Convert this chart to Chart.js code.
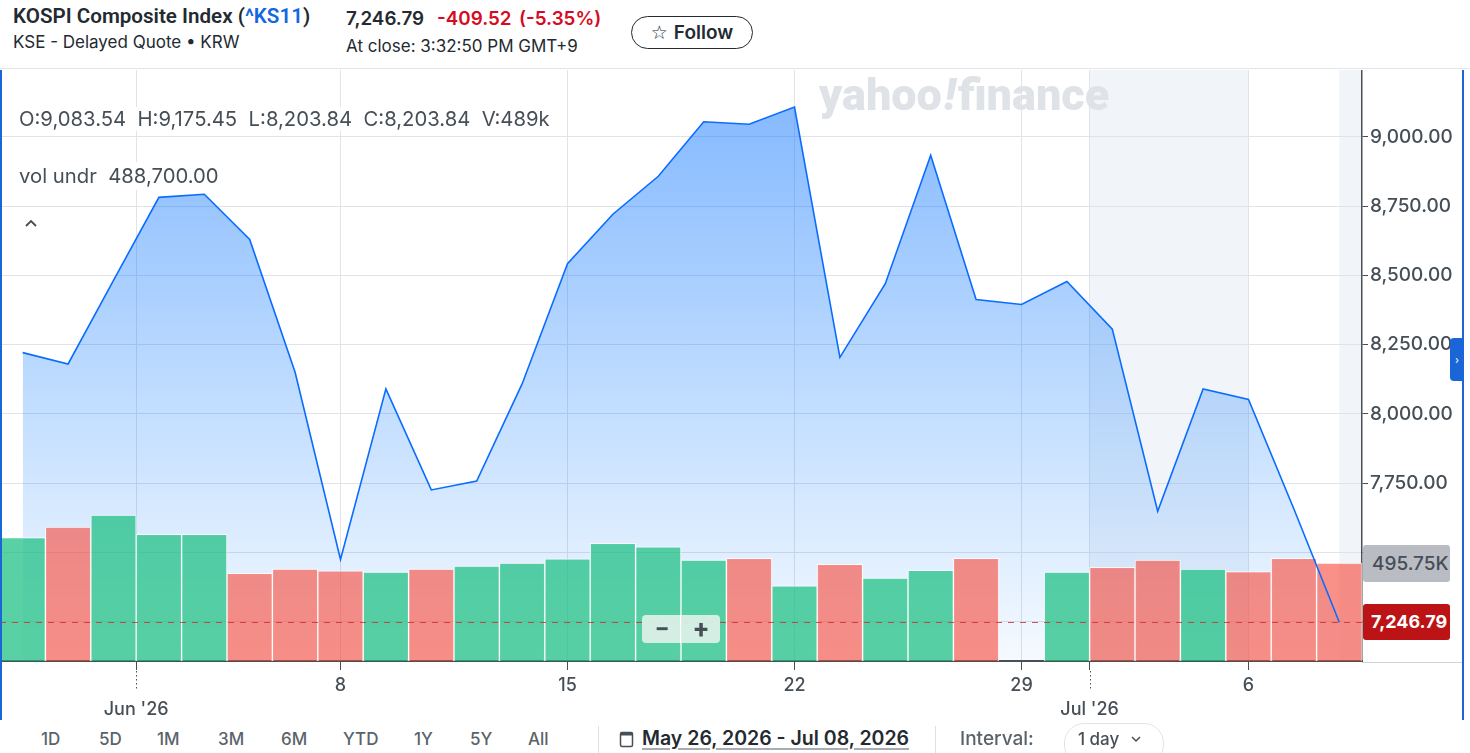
<!DOCTYPE html>
<html><head><meta charset="utf-8">
<script src="https://cdn.jsdelivr.net/npm/chart.js@4.4.1/dist/chart.umd.min.js"></script>
<style>
html,body{margin:0;padding:0;background:#fff;width:1470px;height:753px;overflow:hidden;font-family:Roboto,"Liberation Sans",sans-serif;color:#232a31;}
.abs{position:absolute;white-space:nowrap;}
.chart-txt{font-family:Inter,"Noto Sans",sans-serif;font-size:20.3px;color:#464e56;line-height:24px;background:rgba(255,255,255,0.92);}
.tb{font-family:Inter,Roboto,sans-serif;font-size:17px;font-weight:500;color:#5b636a;line-height:20px;top:729px;}
.sep{position:absolute;width:1px;background:#dddfe2;}
.hp{font-family:Inter,Roboto,sans-serif;font-size:18.8px;font-weight:600;line-height:24px;top:7px;}
</style></head><body>

<!-- header -->
<div class="abs" style="left:13px;top:4px;font-size:20.6px;font-weight:600;line-height:24px;">KOSPI Composite Index (<span style="color:#1467e0">^KS11</span>)</div>
<div class="abs" style="left:13px;top:32px;font-family:Inter,Roboto,sans-serif;font-size:17px;line-height:20px;">KSE - Delayed Quote • KRW</div>
<div class="abs hp" style="left:346px;">7,246.79</div>
<div class="abs hp" style="left:437px;color:#d60a22;">-409.52</div>
<div class="abs hp" style="left:519px;color:#d60a22;">(-5.35%)</div>
<div class="abs" style="left:346px;top:36px;font-family:Inter,Roboto,sans-serif;font-size:17px;line-height:20px;">At close: 3:32:50 PM GMT+9</div>
<div class="abs" style="left:631px;top:16px;width:120px;height:31px;border:1px solid #232a31;border-radius:17px;font-family:Inter,Roboto,sans-serif;font-size:19px;font-weight:600;line-height:31px;text-align:center;"><span style="font-weight:400;font-size:19px;margin-right:6px;font-family:'DejaVu Sans'">☆</span>Follow</div>
<div class="abs" style="left:0;top:68px;width:1470px;height:1px;background:#e3e5e8;"></div>

<!-- chart -->
<div class="abs" style="left:0;top:70px;width:1470px;height:655px;">
  <canvas id="c" width="1470" height="655"></canvas>
</div>

<!-- watermark -->
<div class="abs" style="left:819px;top:68px;font-family:Roboto,sans-serif;font-weight:900;font-size:45px;line-height:54px;color:#dfe2e7;letter-spacing:0px;">yahoo<span style="font-style:italic;margin:0 2px;">!</span>finance</div>

<!-- overlays -->
<div class="abs chart-txt" style="left:15px;top:107px;padding:0 4px;">O:9,083.54&nbsp;&nbsp;H:9,175.45&nbsp;&nbsp;L:8,203.84&nbsp;&nbsp;C:8,203.84&nbsp;&nbsp;V:489k</div>
<div class="abs chart-txt" style="left:15px;top:162px;padding:2px 4px;">vol undr&nbsp;&nbsp;488,700.00</div>
<div class="abs" style="left:13px;top:208px;width:35px;height:28px;background:rgba(255,255,255,0.92);">
  <svg width="35" height="28"><polyline points="13,18 18,13 23,18" fill="none" stroke="#464e56" stroke-width="1.8"/></svg>
</div>

<div id="volLbl" class="abs" style="left:1363px;top:543px;width:87px;height:37px;background:#b9bcc3;border-radius:3px;font-family:Inter,sans-serif;font-size:19px;font-weight:500;color:#464e56;line-height:37px;text-indent:9px;">495.75K</div>
<div id="priceLbl" class="abs" style="left:1363px;top:604px;width:87px;height:36px;background:#bc1416;border-radius:3px;font-family:Inter,sans-serif;font-size:18px;font-weight:700;color:#fff;line-height:36px;text-indent:8px;">7,246.79</div>

<div class="abs" style="left:642px;top:615px;width:78px;height:28px;background:rgba(222,241,232,0.92);border-radius:4px;">
  <div class="abs" style="left:38px;top:0;width:1px;height:28px;background:#fff;"></div>
  <div class="abs" style="left:9px;top:0;width:22px;line-height:28px;text-align:center;font-size:26px;font-weight:700;color:#464e56;">−</div>
  <div class="abs" style="left:48px;top:0;width:22px;line-height:28px;text-align:center;font-size:26px;font-weight:700;color:#464e56;">+</div>
</div>

<!-- edges -->
<div class="abs" style="left:0;top:70px;width:2px;height:650px;background:#1a66d9;"></div>
<div class="abs" style="left:1462px;top:70px;width:2px;height:650px;background:#1a66d9;"></div>
<div class="abs" style="left:1450px;top:338px;width:14px;height:43px;background:#1a66d9;border-radius:4px 0 0 4px;color:#fff;font-size:13px;line-height:43px;text-align:center;">›</div>
<div class="abs" style="left:1362px;top:662px;width:100px;height:1px;background:#d0d3d8;"></div>

<!-- toolbar -->
<div class="abs tb" style="left:41px;">1D</div>
<div class="abs tb" style="left:99px;">5D</div>
<div class="abs tb" style="left:157px;">1M</div>
<div class="abs tb" style="left:218px;">3M</div>
<div class="abs tb" style="left:281px;">6M</div>
<div class="abs tb" style="left:343px;">YTD</div>
<div class="abs tb" style="left:414px;">1Y</div>
<div class="abs tb" style="left:470px;">5Y</div>
<div class="abs tb" style="left:528px;">All</div>
<div class="sep" style="left:598px;top:726px;height:27px;"></div>
<svg class="abs" style="left:619px;top:729px;" width="16" height="20"><rect x="1.5" y="3.5" width="12" height="14" rx="1.5" fill="none" stroke="#464e56" stroke-width="1.5"/><rect x="1.5" y="3.5" width="12" height="3" fill="#464e56"/></svg>
<div class="abs" style="left:642px;top:726px;font-family:Inter,Roboto,sans-serif;font-size:19.5px;font-weight:600;line-height:24px;color:#232a31;text-decoration:underline;text-decoration-color:#a8adb3;text-decoration-thickness:2px;text-underline-offset:3px;">May 26, 2026 - Jul 08, 2026</div>
<div class="sep" style="left:935px;top:726px;height:27px;"></div>
<div class="abs" style="left:960px;top:727px;font-family:Inter,Roboto,sans-serif;font-size:19px;font-weight:500;line-height:24px;color:#5b636a;">Interval:</div>
<div class="abs" style="left:1064px;top:723px;width:98px;height:40px;border:1px solid #e1e3e6;border-radius:20px;"></div>
<div class="abs" style="left:1078px;top:728px;font-family:Inter,Roboto,sans-serif;font-size:17px;font-weight:500;line-height:22px;color:#464e56;">1 day</div>
<svg class="abs" style="left:1130px;top:734px;" width="12" height="10"><polyline points="2,3 6,7 10,3" fill="none" stroke="#464e56" stroke-width="1.5"/></svg>

<script>
// ---- data ----
const dates = ["May 27","May 28","May 29","Jun 1","Jun 2","Jun 4","Jun 5","Jun 8","Jun 9","Jun 10",
  "Jun 11","Jun 12","Jun 15","Jun 16","Jun 17","Jun 18","Jun 19","Jun 22","Jun 23","Jun 24",
  "Jun 25","Jun 26","Jun 29","Jun 30","Jul 1","Jul 2","Jul 3","Jul 6","Jul 7","Jul 8"];
const closes = [8221, 8180, 8482, 8782, 8793, 8630, 8150, 7474, 8090, 7725,
  7757, 8108, 8542, 8721, 8858, 9055, 9046, 9108, 8203.84, 8470,
  8934, 8413, 8395, 8478, 8306, 7648, 8090, 8052, 7656.31, 7246.79];
const volumes = [624000, 678000, 738600, 641000, 641000, 443600, 465400, 456800, 450200, 465400,
  480600, 495700, 517500, 595400, 578200, 510900, 519500, 380900, 488700, 419900,
  458800, 519500, null, 450200, 474000, 510900, 465400, 451800, 519500, 495750];
const xTickValues = [2.5, 7, 12, 17, 22, 23.5, 27];
const xTickLabels = [["", "Jun '26"], "8", "15", "22", "29", ["", "Jul '26"], "6"];
const monthTicks = [2.5, 23.5];
const yTickValues = [7250, 7500, 7750, 8000, 8250, 8500, 8750, 9000];
const shadedRanges = [[23.5, 27], [29, 29.5]];

const UP = 'rgba(20,190,125,0.7)', DOWN = 'rgba(247,70,55,0.6)';
const barColors = closes.map((c, i) => (i === 0 || c >= closes[i - 1]) ? UP : DOWN);
const pts = closes.map((v, i) => ({x: i, y: v}));
const volPts = volumes.map((v, i) => ({x: i, y: v}));
const fmt = v => v.toLocaleString('en-US', {minimumFractionDigits: 2, maximumFractionDigits: 2});

const decor = {
  id: 'decor',
  beforeDraw(chart) {
    const {ctx, chartArea: a, scales: {x}} = chart;
    ctx.save();
    ctx.fillStyle = '#f1f5f9';
    shadedRanges.forEach(([s, e]) => {
      const x1 = x.getPixelForValue(s), x2 = x.getPixelForValue(e);
      ctx.fillRect(x1, a.top, x2 - x1, a.bottom - a.top);
    });
    ctx.restore();
  },
  afterDatasetsDraw(chart) {
    const {ctx, chartArea: a, scales: {x, y}} = chart;
    const last = closes[closes.length - 1];
    const py = Math.round(y.getPixelForValue(last)) + 0.5;
    ctx.save();
    ctx.strokeStyle = 'rgba(205,45,45,0.8)';
    ctx.lineWidth = 1;
    ctx.setLineDash([6, 6]);
    ctx.beginPath(); ctx.moveTo(a.left, py); ctx.lineTo(a.right, py); ctx.stroke();
    ctx.strokeStyle = '#464e56';
    ctx.setLineDash([1.5, 2.5]);
    monthTicks.forEach(v => {
      const px = Math.round(x.getPixelForValue(v)) + 0.5;
      ctx.beginPath(); ctx.moveTo(px, a.bottom + 10); ctx.lineTo(px, a.bottom + 29); ctx.stroke();
    });
    ctx.restore();
  },
  afterRender(chart) {
    const {scales: {y, yv}, canvas} = chart;
    const top = canvas.parentNode.offsetTop;
    const last = closes[closes.length - 1];
    const lv = volumes[volumes.length - 1];
    document.getElementById('priceLbl').style.top = (top + y.getPixelForValue(last) - 18) + 'px';
    document.getElementById('volLbl').style.top = (top + yv.getPixelForValue(lv) - 18.5) + 'px';
  }
};

const noPad = s => { s.paddingTop = 0; s.paddingBottom = 0; s.paddingLeft = 0; s.paddingRight = 0; };

const ctx = document.getElementById('c').getContext('2d');
new Chart(ctx, {
  data: {
    datasets: [
      {
        type: 'line', data: pts, yAxisID: 'y', borderWidth: 0, pointRadius: 0, tension: 0,
        fill: 'start', order: 3,
        backgroundColor: (c) => {
          const a = c.chart.chartArea;
          if (!a) return 'rgba(0,110,255,0.2)';
          const g = c.chart.ctx.createLinearGradient(0, a.top, 0, a.bottom);
          g.addColorStop(0, 'rgba(0,108,255,0.5)');
          g.addColorStop(1, 'rgba(0,120,255,0.04)');
          return g;
        }
      },
      {
        type: 'bar', data: volPts, yAxisID: 'yv', backgroundColor: barColors,
        borderColor: 'rgba(255,255,255,0.75)', borderWidth: 1,
        barPercentage: 1, categoryPercentage: 1, order: 2
      },
      {
        type: 'line', data: pts, yAxisID: 'y', borderColor: '#0a6cff', borderWidth: 1.6,
        pointRadius: 0, tension: 0, fill: false, order: 1
      }
    ]
  },
  options: {
    responsive: false, animation: false, events: [],
    layout: {padding: 0},
    plugins: {legend: {display: false}, tooltip: {enabled: false}},
    scales: {
      x: {
        type: 'linear', position: 'bottom', min: -0.5, max: 29.5, offset: false,
        afterBuildTicks: s => { s.ticks = xTickValues.map(v => ({value: v})); },
        afterFit: s => { s.height = 64; noPad(s); },
        ticks: {
          autoSkip: false, maxRotation: 0, minRotation: 0, padding: 4,
          callback: (v, i) => xTickLabels[i],
          color: '#464e56',
          font: {family: 'Inter', size: 18, weight: '500', lineHeight: 1.3}
        },
        grid: {color: '#e0e3e8', lineWidth: 1, tickLength: 9, tickColor: '#464e56', offset: false},
        border: {color: '#4a4f55', width: 2}
      },
      y: {
        type: 'linear', position: 'right', min: 7107, max: 9242,
        afterBuildTicks: s => { s.ticks = yTickValues.map(v => ({value: v})); },
        afterFit: s => { s.width = 108; noPad(s); },
        ticks: {
          padding: 2, color: '#464e56',
          callback: v => v < 7750 ? '' : fmt(v),
          font: {family: 'Inter', size: 19, weight: '500'}
        },
        grid: {color: '#e0e3e8', lineWidth: 1, tickLength: 6, tickColor: '#464e56'},
        border: {color: '#4a4f55', width: 1.5}
      },
      yv: {type: 'linear', display: false, min: 0, max: 2990000}
    }
  },
  plugins: [decor]
});
</script>
</body></html>
